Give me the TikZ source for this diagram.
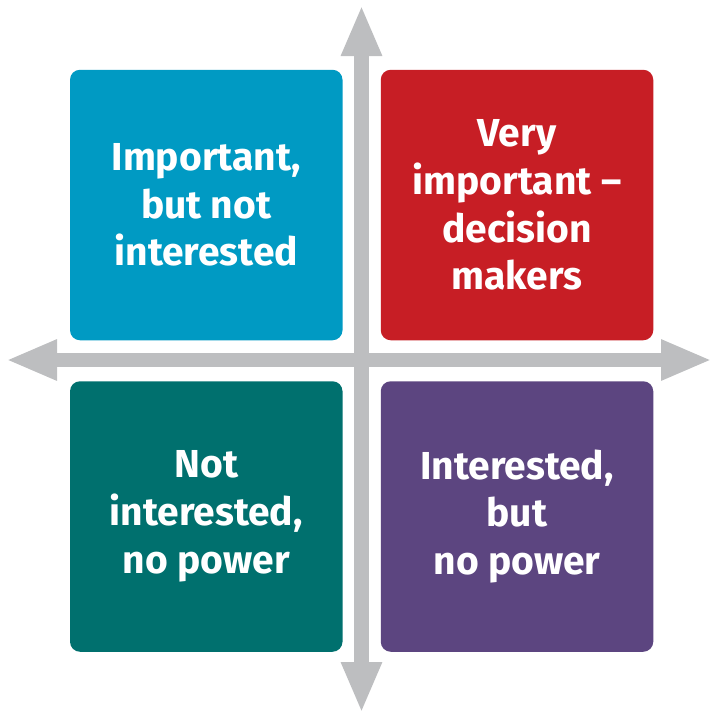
\documentclass[tikz,border=0pt]{standalone}
\usepackage{fontspec}
\setmainfont{Fira Sans}
\usetikzlibrary{arrows.meta}
\definecolor{qblue}{HTML}{009AC3}
\definecolor{qred}{HTML}{C71E25}
\definecolor{qteal}{HTML}{00706E}
\definecolor{qpurple}{HTML}{5C4580}
\definecolor{axisgray}{HTML}{BDBEC0}
\tikzset{
  quad/.style={rectangle, rounded corners=10pt, minimum width=272.5pt, minimum height=270.5pt,
    inner sep=0pt, text=white, align=center, font=\fontsize{39}{47.7}\selectfont\bfseries},
  axisline/.style={line width=14.5pt, draw=axisgray,
    {Triangle[width=37.5pt,length=51pt]}-{Triangle[width=37.5pt,length=51pt]}}
}
\begin{document}
\begin{tikzpicture}[x=1pt,y=-1pt]
\useasboundingbox (0,0) rectangle (711,713);
\coordinate (top) at (361.5,5);
\coordinate (bottom) at (361.5,713);
\coordinate (left) at (6,360);
\coordinate (right) at (712,360);
\draw[axisline] (top) -- (bottom);
\draw[axisline] (left) -- (right);
\node[quad, fill=qblue] (tl) at (206.25,205) {Important,\\but not\\interested};
\node[quad, fill=qred] (tr) at (517,205) {Very\\important –\\decision\\makers};
\node[quad, fill=qteal] (bl) at (206.25,516.5) {Not\\interested,\\no power};
\node[quad, fill=qpurple] (br) at (517,516.5) {Interested,\\but\\no power};
\end{tikzpicture}
\end{document}
